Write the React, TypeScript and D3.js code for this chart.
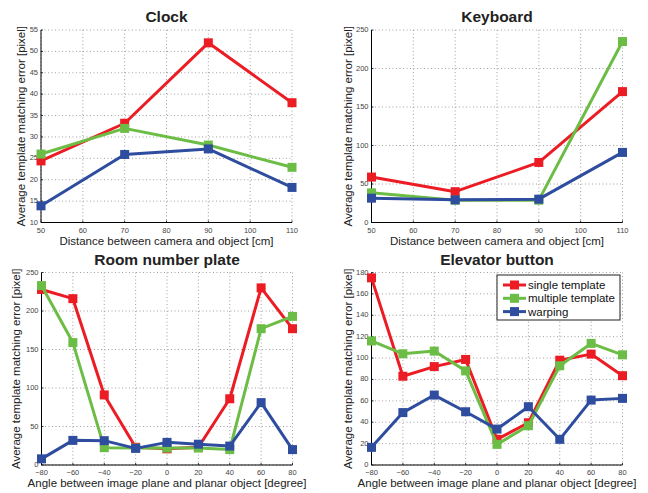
import React from "react";
import * as d3 from "d3";

const distances = [50, 70, 90, 110];
const angles = [-80, -60, -40, -20, 0, 20, 40, 60, 80];

const seriesNames = ["single template", "multiple template", "warping"];
const seriesColors = ["#ec1c24", "#6cbd45", "#2e4d9f"];

const clockSingle = [24.4, 33.2, 52, 38];
const clockMultiple = [26, 32, 28.1, 22.9];
const clockWarping = [13.9, 25.9, 27.2, 18.2];

const keyboardSingle = [59, 40, 78, 170];
const keyboardMultiple = [38.5, 29, 29, 235];
const keyboardWarping = [31.6, 29.4, 30.3, 91];

const plateSingle = [228, 216, 91, 23, 21, 23, 86, 230, 177];
const plateMultiple = [233, 159, 22.5, 22, 22, 22, 20, 177, 193];
const plateWarping = [8, 32, 31.6, 21.6, 29.4, 27, 24.6, 81, 20];

const elevatorSingle = [175, 83, 92, 98.7, 24, 39.5, 98, 103.7, 83.5];
const elevatorMultiple = [116, 104, 106.5, 88, 19.3, 36.7, 92.8, 113.7, 103];
const elevatorWarping = [16.5, 49, 65.4, 49.8, 33.6, 54.5, 24, 60.7, 62.3];

const distanceTicks = [50, 60, 70, 80, 90, 100, 110];
const angleTicks = [-80, -60, -40, -20, 0, 20, 40, 60, 80];

const yLabel = "Average template matching error [pixel]";
const font = "Helvetica, Arial, 'Liberation Sans', sans-serif";

type PanelProps = {
  title: string;
  xs: number[];
  series: number[][];
  xDomain: [number, number];
  xTicks: number[];
  yDomain: [number, number];
  yStep: number;
  xLabel: string;
  left: number;
  top: number;
  width: number;
  height: number;
  yLabelX: number;
  legend?: boolean;
};

function Panel(props: PanelProps) {
  const { title, xs, series, xDomain, xTicks, yDomain, yStep, xLabel, left, top, width, height, yLabelX, legend } = props;
  const x = d3.scaleLinear().domain(xDomain).range([left, left + width]);
  const y = d3.scaleLinear().domain(yDomain).range([top + height, top]);
  const yTicks = d3.range(yDomain[0], yDomain[1] + yStep / 2, yStep);
  const line = d3
    .line<number>()
    .x((d, i) => x(xs[i]))
    .y((d) => y(d));
  const ms = 9;

  return (
    <g>
      {xTicks.map((t) => (
        <line key={"gx" + t} x1={x(t)} x2={x(t)} y1={top} y2={top + height} stroke="#888" strokeWidth={0.8} strokeDasharray="1,2.5" />
      ))}
      {yTicks.map((t) => (
        <line key={"gy" + t} x1={left} x2={left + width} y1={y(t)} y2={y(t)} stroke="#888" strokeWidth={0.8} strokeDasharray="1,2.5" />
      ))}
      <line x1={left} x2={left} y1={top} y2={top + height} stroke="#000" strokeWidth={1} />
      <line x1={left} x2={left + width} y1={top + height} y2={top + height} stroke="#000" strokeWidth={1} />
      {xTicks.map((t) => (
        <g key={"tx" + t}>
          <line x1={x(t)} x2={x(t)} y1={top + height} y2={top + height - 2} stroke="#000" strokeWidth={0.8} />
          <text x={x(t)} y={top + height + 10} fontSize={7.5} fill="#444" textAnchor="middle" fontFamily={font}>
            {t < 0 ? "\u2212" + Math.abs(t) : t}
          </text>
        </g>
      ))}
      {yTicks.map((t) => (
        <g key={"ty" + t}>
          <line x1={left} x2={left + 2} y1={y(t)} y2={y(t)} stroke="#000" strokeWidth={0.8} />
          <text x={left - 3} y={y(t) + 2} fontSize={7.5} fill="#444" textAnchor="end" fontFamily={font}>
            {t}
          </text>
        </g>
      ))}
      {series.map((s, k) => (
        <g key={"s" + k}>
          <path d={line(s) || ""} fill="none" stroke={seriesColors[k]} strokeWidth={3} strokeLinejoin="round" />
          {s.map((v, i) => (
            <rect key={i} x={x(xs[i]) - ms / 2} y={y(v) - ms / 2} width={ms} height={ms} fill={seriesColors[k]} />
          ))}
        </g>
      ))}
      <text x={left + width / 2} y={top - 8} fontSize={15.5} fontWeight="bold" textAnchor="middle" fontFamily={font} fill="#222">
        {title}
      </text>
      <text x={left + width / 2} y={top + height + 22} fontSize={11.5} textAnchor="middle" fontFamily={font} fill="#222">
        {xLabel}
      </text>
      <text
        transform={`translate(${yLabelX},${top + height / 2}) rotate(-90)`}
        fontSize={11.5}
        textAnchor="middle"
        fontFamily={font}
        fill="#222"
      >
        {yLabel}
      </text>
      {legend && (
        <g>
          <rect x={497} y={275} width={123} height={45} fill="#fff" stroke="#222" strokeWidth={1} />
          {seriesNames.map((n, k) => (
            <g key={n}>
              <line x1={503} x2={526} y1={285 + k * 13.3} y2={285 + k * 13.3} stroke={seriesColors[k]} strokeWidth={3} />
              <rect x={510} y={285 + k * 13.3 - 4.5} width={9} height={9} fill={seriesColors[k]} />
              <text x={528} y={285 + k * 13.3 + 4} fontSize={11.5} fontFamily={font} fill="#111">
                {n}
              </text>
            </g>
          ))}
        </g>
      )}
    </g>
  );
}

export default function App() {
  const w = 251;
  const h = 192.5;
  return (
    <svg width={648} height={493} style={{ position: "absolute", left: 0, top: 0, background: "#fff" }}>
      <Panel
        title="Clock"
        xs={distances}
        series={[clockSingle, clockMultiple, clockWarping]}
        xDomain={[50, 110]}
        xTicks={distanceTicks}
        yDomain={[10, 55]}
        yStep={5}
        xLabel="Distance between camera and object [cm]"
        left={41}
        top={30}
        width={w}
        height={h}
        yLabelX={25}
      />
      <Panel
        title="Keyboard"
        xs={distances}
        series={[keyboardSingle, keyboardMultiple, keyboardWarping]}
        xDomain={[50, 110]}
        xTicks={distanceTicks}
        yDomain={[0, 250]}
        yStep={50}
        xLabel="Distance between camera and object [cm]"
        left={371.5}
        top={30}
        width={w}
        height={h}
        yLabelX={352}
      />
      <Panel
        title="Room number plate"
        xs={angles}
        series={[plateSingle, plateMultiple, plateWarping]}
        xDomain={[-80, 80]}
        xTicks={angleTicks}
        yDomain={[0, 250]}
        yStep={50}
        xLabel="Angle between image plane and planar object [degree]"
        left={41.5}
        top={272.5}
        width={w}
        height={h}
        yLabelX={20}
      />
      <Panel
        title="Elevator button"
        xs={angles}
        series={[elevatorSingle, elevatorMultiple, elevatorWarping]}
        xDomain={[-80, 80]}
        xTicks={angleTicks}
        yDomain={[0, 180]}
        yStep={20}
        xLabel="Angle between image plane and planar object [degree]"
        left={371.5}
        top={272.5}
        width={w}
        height={h}
        yLabelX={352}
        legend
      />
    </svg>
  );
}
